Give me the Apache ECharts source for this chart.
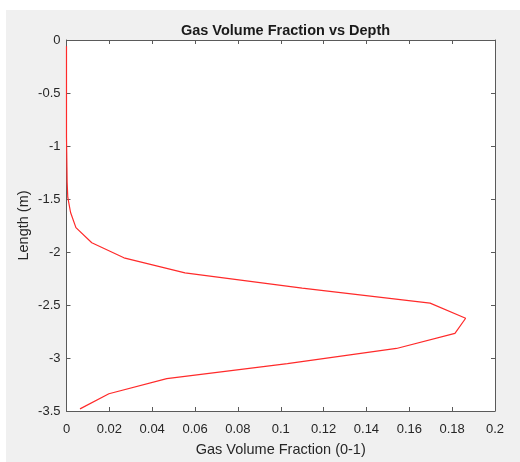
<!DOCTYPE html>
<html>
<head>
<meta charset="utf-8">
<script src="https://cdn.jsdelivr.net/npm/echarts@6/dist/echarts.min.js"></script>
<style>
  html, body { margin: 0; padding: 0; background: #ffffff; }
  #chart { width: 520px; height: 462px; }
</style>
</head>
<body>
<div id="chart"></div>
<script>
// Depth below surface (m), one sample per cell
const depths = [-0.06, -0.2025, -0.345, -0.4875, -0.63, -0.7725, -0.915, -1.0575, -1.2,
  -1.3425, -1.485, -1.6275, -1.77, -1.9125, -2.055, -2.1975, -2.34, -2.4825, -2.625,
  -2.7675, -2.91, -3.0525, -3.195, -3.3375, -3.48];
// Gas volume fraction at each depth
const gasFraction = [0, 0, 0, 0, 0, 0, 0, 0.0001, 0.0002, 0.0003, 0.0006, 0.0019, 0.0044,
  0.0118, 0.0268, 0.0553, 0.110, 0.1697, 0.1863, 0.1813, 0.154, 0.1031, 0.0468, 0.0198, 0.0063];
// Axis tick labels
const xTicks = ['0', '0.02', '0.04', '0.06', '0.08', '0.1', '0.12', '0.14', '0.16', '0.18', '0.2'];
const yTicks = ['0', '-0.5', '-1', '-1.5', '-2', '-2.5', '-3', '-3.5'];

const points = depths.map((d, i) => [gasFraction[i], d]);
const font = 'Liberation Sans, Arial, Helvetica, sans-serif';
const axisColor = '#5a5a5a';
const textColor = '#262626';

const xLabel = v => {
  const idx = Math.round(v / 0.02);
  return xTicks[idx] !== undefined ? xTicks[idx] : '';
};
const yLabel = v => {
  const idx = Math.round(-v / 0.5);
  return yTicks[idx] !== undefined ? yTicks[idx] : '';
};

const baseX = {
  type: 'value', min: 0, max: 0.2, interval: 0.02,
  axisLine: { show: true, onZero: false, lineStyle: { color: axisColor, width: 1 } },
  axisTick: { show: true, inside: true, length: 4, lineStyle: { color: axisColor } },
  splitLine: { show: false }
};
const baseY = {
  type: 'value', min: -3.5, max: 0, interval: 0.5,
  axisLine: { show: true, onZero: false, lineStyle: { color: axisColor, width: 1 } },
  axisTick: { show: true, inside: true, length: 4, lineStyle: { color: axisColor } },
  splitLine: { show: false }
};

const chart = echarts.init(document.getElementById('chart'), null, { renderer: 'canvas' });
chart.setOption({
  animation: false,
  backgroundColor: '#ffffff',
  graphic: [{
    type: 'rect', z: -100, silent: true,
    shape: { x: 6, y: 10, width: 514, height: 452 },
    style: { fill: '#f0f0f0' }
  }],
  title: {
    text: 'Gas Volume Fraction vs Depth',
    left: 280.5, top: 18, textAlign: 'center',
    textStyle: { fontFamily: font, fontSize: 14.5, fontWeight: 'bold', color: '#1a1a1a' }
  },
  grid: {
    left: 66.5, right: 25, top: 40, bottom: 48.5,
    show: true, backgroundColor: '#ffffff', borderWidth: 0
  },
  xAxis: [
    Object.assign({}, baseX, {
      position: 'bottom',
      name: 'Gas Volume Fraction (0-1)', nameLocation: 'middle', nameGap: 31,
      nameTextStyle: { fontFamily: font, fontSize: 14.5, color: textColor },
      axisLabel: { formatter: xLabel, fontFamily: font, fontSize: 13, color: textColor, margin: 12 }
    }),
    Object.assign({}, baseX, { position: 'top', axisLabel: { show: false } })
  ],
  yAxis: [
    Object.assign({}, baseY, {
      position: 'left',
      name: 'Length (m)', nameLocation: 'middle', nameGap: 35, nameMoveOverlap: false,
      nameTextStyle: { fontFamily: font, fontSize: 14.5, color: textColor },
      axisLabel: { formatter: yLabel, fontFamily: font, fontSize: 13, color: textColor, margin: 6 }
    }),
    Object.assign({}, baseY, { position: 'right', axisLabel: { show: false } })
  ],
  series: [{
    type: 'line',
    xAxisIndex: 0, yAxisIndex: 0,
    data: points,
    showSymbol: false,
    smooth: false,
    lineStyle: { color: '#ff2a2a', width: 1.2 }
  }]
});
</script>
</body>
</html>
